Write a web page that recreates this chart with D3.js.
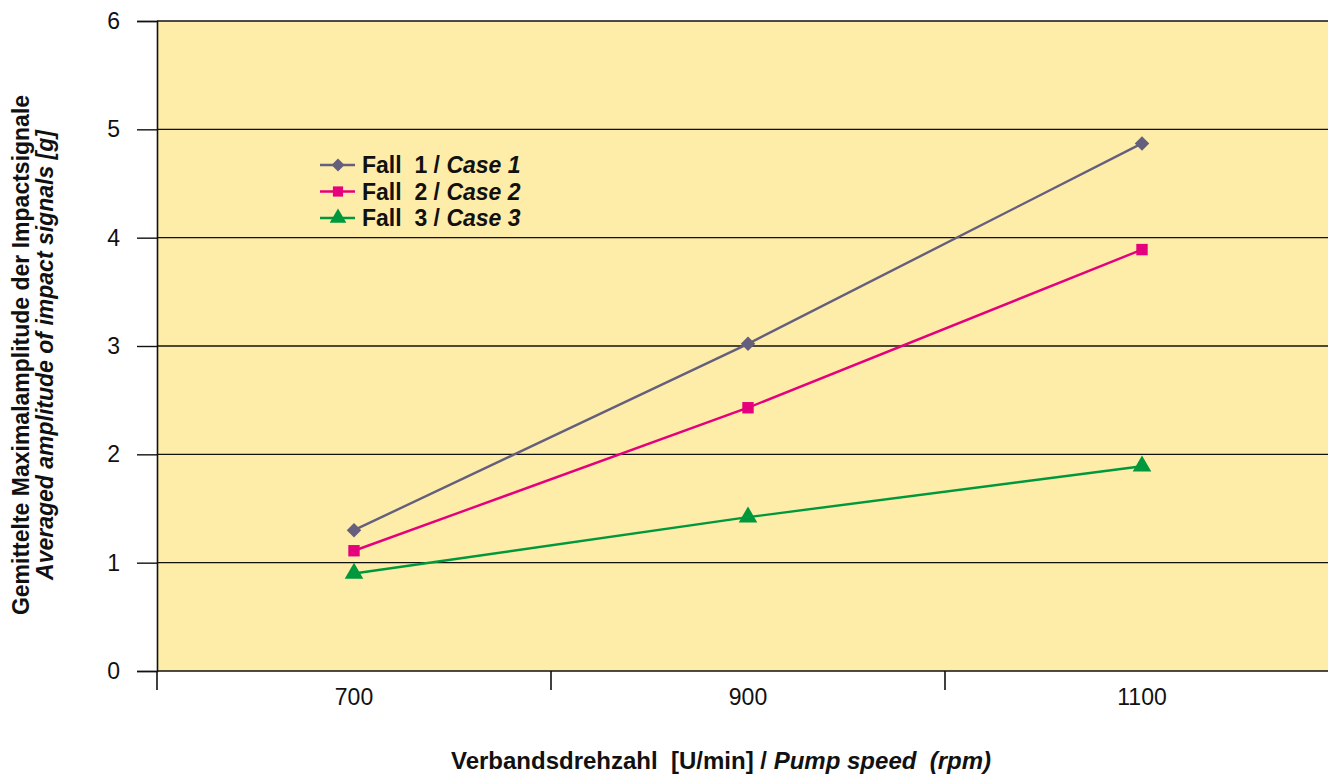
<!DOCTYPE html>
<html>
<head>
<meta charset="utf-8">
<script src="https://cdn.jsdelivr.net/npm/d3@7"></script>
<style>
  html, body { margin: 0; padding: 0; background: #fff; }
  svg { display: block; font-family: "Liberation Sans", Arial, sans-serif; }
</style>
</head>
<body>
<svg id="chart" width="1328" height="774"></svg>
<script>
// Pump speed categories (rpm)
const speeds = ["700", "900", "1100"];
// Averaged amplitude of impact signals [g] per case
const case1 = [1.30, 3.02, 4.87];
const case2 = [1.11, 2.43, 3.89];
const case3 = [0.90, 1.42, 1.89];
const seriesNames = ["1", "2", "3"];
const yTicks = [0, 1, 2, 3, 4, 5, 6];

(function () {
  // diamond = square turned by 45 degrees
  const series = [
    { n: seriesNames[0], values: case1, color: "#655f7e", symbol: d3.symbolSquare, size: 105, rot: 45 },
    { n: seriesNames[1], values: case2, color: "#e5007d", symbol: d3.symbolSquare, size: 130, rot: 0 },
    { n: seriesNames[2], values: case3, color: "#00983d", symbol: d3.symbolTriangle, size: 150, rot: 0 }
  ];

  const svg = d3.select("#chart");
  const plotL = 157, plotR = 1339, plotT = 21, plotB = 671;

  const x = d3.scaleBand().domain(speeds).range([plotL, plotR]);
  const y = d3.scaleLinear().domain([0, 6]).range([plotB, plotT]);

  // plot background
  svg.append("rect")
    .attr("x", plotL).attr("y", plotT)
    .attr("width", plotR - plotL).attr("height", plotB - plotT)
    .attr("fill", "#feeda8");

  // horizontal gridlines
  svg.append("g").selectAll("line").data(yTicks.filter(d => d > 0)).join("line")
    .attr("x1", plotL).attr("x2", plotR)
    .attr("y1", d => y(d)).attr("y2", d => y(d))
    .attr("stroke", "#111").attr("stroke-width", 1.4);

  // y axis
  const yAxis = svg.append("g")
    .attr("transform", `translate(${plotL},0)`)
    .call(d3.axisLeft(y).tickValues(yTicks).tickFormat(d3.format("d")).tickSize(20).tickPadding(17));
  yAxis.attr("font-size", null).attr("font-family", null);
  yAxis.select(".domain").attr("stroke", "#111").attr("stroke-width", 1.6);
  yAxis.selectAll(".tick line").attr("stroke", "#111").attr("stroke-width", 1.4);
  yAxis.selectAll("text").style("font-size", "23px").attr("fill", "#111");

  // x axis: ticks at the category boundaries, labels at band centres
  const xAxisG = svg.append("g").attr("transform", `translate(0,${plotB})`);
  xAxisG.append("line").attr("x1", plotL).attr("x2", plotR).attr("y1", 0).attr("y2", 0)
    .attr("stroke", "#111").attr("stroke-width", 1.6);
  const bounds = speeds.map(s => x(s)).concat([x(speeds[speeds.length - 1]) + x.bandwidth()]);
  xAxisG.selectAll("line.tk").data(bounds).join("line").attr("class", "tk")
    .attr("x1", d => d).attr("x2", d => d).attr("y1", 0).attr("y2", 19)
    .attr("stroke", "#111").attr("stroke-width", 1.6);
  xAxisG.selectAll("text").data(speeds).join("text")
    .attr("x", d => x(d) + x.bandwidth() / 2).attr("y", 34)
    .attr("text-anchor", "middle").style("font-size", "23px").attr("fill", "#111")
    .text(d => d);

  // series lines and markers
  const cx = (i) => x(speeds[i]) + x.bandwidth() / 2;
  const line = d3.line().x((d, i) => cx(i)).y(d => y(d));
  series.forEach(s => {
    svg.append("path").datum(s.values)
      .attr("d", line).attr("fill", "none")
      .attr("stroke", s.color).attr("stroke-width", 2.4);
    svg.append("g").selectAll("path").data(s.values).join("path")
      .attr("transform", (d, i) => `translate(${cx(i)},${y(d)}) rotate(${s.rot})`)
      .attr("d", d3.symbol().type(s.symbol).size(s.size))
      .attr("fill", s.color);
  });

  // legend
  const legend = svg.append("g").attr("transform", "translate(320,165)");
  series.forEach((s, i) => {
    const g = legend.append("g").attr("transform", `translate(0,${i * 26.5})`);
    g.append("line").attr("x1", 0).attr("x2", 35).attr("y1", 0).attr("y2", 0)
      .attr("stroke", s.color).attr("stroke-width", 2.4);
    g.append("path").attr("transform", `translate(18,0) rotate(${s.rot})`)
      .attr("d", d3.symbol().type(s.symbol).size(s.size * 0.8)).attr("fill", s.color);
    const t = g.append("text").attr("x", 42).attr("y", 8)
      .style("font-size", "23px").attr("font-weight", "bold").attr("fill", "#111")
      .attr("xml:space", "preserve");
    t.append("tspan").text(`Fall  ${s.n} / `);
    t.append("tspan").attr("font-style", "italic").text(`Case ${s.n}`);
  });

  // x axis title
  const xt = svg.append("text").attr("x", 721).attr("y", 769)
    .attr("text-anchor", "middle").style("font-size", "24px").attr("font-weight", "bold")
    .attr("fill", "#111").attr("xml:space", "preserve");
  xt.append("tspan").text("Verbandsdrehzahl  [U/min] / ");
  xt.append("tspan").attr("font-style", "italic").text("Pump speed  (rpm)");

  // y axis title (two lines)
  const yt = svg.append("text").attr("transform", "translate(0,355) rotate(-90)")
    .attr("text-anchor", "middle").style("font-size", "23px").attr("font-weight", "bold")
    .attr("fill", "#111");
  yt.append("tspan").attr("x", 0).attr("y", 29).text("Gemittelte Maximalamplitude der Impactsignale");
  yt.append("tspan").attr("x", 0).attr("y", 53).attr("font-style", "italic")
    .text("Averaged amplitude of impact signals [g]");
})();
</script>
</body>
</html>
